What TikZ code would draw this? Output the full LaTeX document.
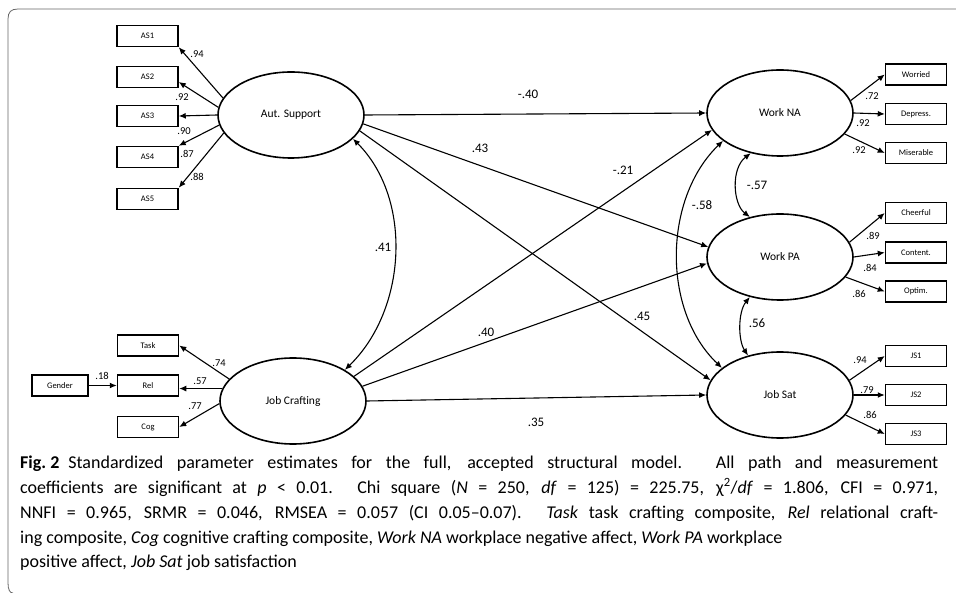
\documentclass[tikz,border=0pt]{standalone}
\usepackage{fontspec}
\setmainfont{Carlito}
\usetikzlibrary{shapes.geometric,arrows.meta,calc}
\begin{document}
\begin{tikzpicture}[x=1pt,y=-1pt,
 lat/.style={ellipse,draw,line width=1.6pt,minimum width=146pt,minimum height=86pt,inner sep=0pt,font=\fontsize{11.5}{13}\selectfont},
 ind/.style={rectangle,draw,line width=1.5pt,minimum width=61pt,minimum height=21pt,inner sep=0pt,font=\fontsize{8.5}{10}\selectfont},
 arr/.style={line width=1.1pt,-{Latex[length=7pt,width=6pt]}},
 cov/.style={line width=1.1pt,{Latex[length=7pt,width=6pt]}-{Latex[length=7pt,width=6pt]}},
 ld/.style={font=\fontsize{10.5}{12}\selectfont,inner sep=0pt},
 co/.style={font=\fontsize{13}{15}\selectfont,inner sep=0pt},
 capline/.style={anchor=base west,inner sep=0pt,font=\fontsize{18}{22}\selectfont}]
\useasboundingbox (0,0) rectangle (956,593);
% frame
\draw[black!60,line width=0.8pt] (956,9) -- (18,9) .. controls (11,9) and (8,12) .. (8,19) -- (8,583) .. controls (8,590) and (10,593) .. (13,593);
% latent variables
\node[lat] (as) at (291,115) {Aut. Support};
\node[lat] (jc) at (293,401) {Job Crafting};
\node[lat] (wna) at (780,113) {Work NA};
\node[lat] (wpa) at (780,257) {Work PA};
\node[lat] (js) at (780,395) {Job Sat};
% indicators
\node[ind] (as1) at (147.5,36) {AS1};
\node[ind] (as2) at (147.5,77) {AS2};
\node[ind] (as3) at (147.5,116) {AS3};
\node[ind] (as4) at (147.5,157) {AS4};
\node[ind] (as5) at (147.5,199) {AS5};
\node[ind] (task) at (148,345.5) {Task};
\node[ind] (rel) at (148,385.5) {Rel};
\node[ind] (cog) at (148,427) {Cog};
\node[ind,minimum width=56pt] (gender) at (60,385.5) {Gender};
\node[ind] (worried) at (916,74.5) {Worried};
\node[ind] (depress) at (916,114) {Depress.};
\node[ind] (miser) at (916,153) {Miserable};
\node[ind] (cheer) at (916,213) {Cheerful};
\node[ind] (content) at (916,252.5) {Content.};
\node[ind] (optim) at (916,291.5) {Optim.};
\node[ind] (js1) at (916,356) {JS1};
\node[ind] (js2) at (916,395) {JS2};
\node[ind] (js3) at (916,434) {JS3};
% measurement arrows
\draw[arr] (as.166) -- (as1.south east);
\draw[arr] (as.174) -- ($(as2.east)+(0,5)$);
\draw[arr] (as.180) -- (as3.east);
\draw[arr] (as.188) -- (as4.north east);
\draw[arr] (as.195) -- (as5.north east);
\draw[arr] (jc.161) -- (task.east);
\draw[arr] (jc.170) -- (jc.170 -| rel.east);
\draw[arr] (jc.182) -- (cog.east);
\draw[arr] (gender) -- (rel);
\draw[arr] (wna.10) -- (worried.west);
\draw[arr] (wna.0) -- (depress.west);
\draw[arr] (wna.-18) -- (miser.west);
\draw[arr] (wpa.12) -- (cheer.west);
\draw[arr] (wpa.0) -- (content.west);
\draw[arr] (wpa.-17) -- (optim.west);
\draw[arr] (js.12) -- (js1.west);
\draw[arr] (js.0) -- (js2.west);
\draw[arr] (js.-17) -- (js3.west);
% structural paths
\draw[arr] (as.east) -- (wna.west);
\draw[arr] (as.-7) -- (wpa.172);
\draw[arr] (as.-13) -- (js.168);
\draw[arr] (jc.22) -- (wna.194);
\draw[arr] (jc.12) -- (wpa.185);
\draw[arr] (jc.east) -- (js.west);
% covariances
\draw[cov] (as.-21) .. controls +(60,60) and +(62,-60) .. (jc.31);
\draw[cov] (wna.206) .. controls +(-60,58) and +(-60,-57) .. (js.155);
\draw[cov] (wna.234) .. controls +(-20,15) and +(-17,-13) .. (wpa.127);
\draw[cov] (wpa.233) .. controls +(-12,15) and +(-10,-15) .. (js.129);
% loadings
\node[ld] (l1) at (197,54) {.94};
\node[ld] (l2) at (182,97) {.92};
\node[ld] (l3) at (184,131) {.90};
\node[ld] (l4) at (187,154) {.87};
\node[ld] (l5) at (197,177) {.88};
\node[ld] (l6) at (219,363) {.74};
\node[ld] (l7) at (200,381) {.57};
\node[ld] (l8) at (195,406) {.77};
\node[ld] (l9) at (102,376) {.18};
\node[ld] (l10) at (872,96) {.72};
\node[ld] (l11) at (863,123) {.92};
\node[ld] (l12) at (859,150) {.92};
\node[ld] (l13) at (873,236) {.89};
\node[ld] (l14) at (870,268) {.84};
\node[ld] (l15) at (859,294) {.86};
\node[ld] (l16) at (860,360) {.94};
\node[ld] (l17) at (867,390) {.79};
\node[ld] (l18) at (870,415) {.86};
% structural coefficients
\node[co] (c1) at (528,94) {-.40};
\node[co] (c2) at (480,148) {.43};
\node[co] (c3) at (623,170) {-.21};
\node[co] (c4) at (642,316) {.45};
\node[co] (c5) at (486,332) {.40};
\node[co] (c6) at (536,422) {.35};
\node[co] (c7) at (383,247) {.41};
\node[co] (c8) at (702,205) {-.58};
\node[co] (c9) at (757,185) {-.57};
\node[co] (c10) at (757,323) {.56};
% caption
\node[capline] (cap1) at (20,468) {\hbox to 918pt{\mbox{\textbf{Fig.\ 2}}\enspace Standardized parameter estimates for the full, accepted structural model. All path and measurement}};
\node[capline] (cap2) at (20,493) {\hbox to 918pt{coefficients are significant at \textit{p} < 0.01. Chi square (\textit{N} = 250, \textit{df} = 125) = 225.75, χ\textsuperscript{2}/\textit{df} = 1.806, CFI = 0.971,}};
\node[capline] (cap3) at (20,518) {\hbox to 918pt{NNFI = 0.965, SRMR = 0.046, RMSEA = 0.057 (CI 0.05–0.07). \textit{Task} task crafting composite, \textit{Rel} relational craft-}};
\node[capline] (cap4) at (20,543) {ing composite, \textit{Cog} cognitive crafting composite, \textit{Work NA} workplace negative affect, \textit{Work PA} workplace};
\node[capline] (cap5) at (20,567) {positive affect, \textit{Job Sat} job satisfaction};
\end{tikzpicture}
\end{document}
